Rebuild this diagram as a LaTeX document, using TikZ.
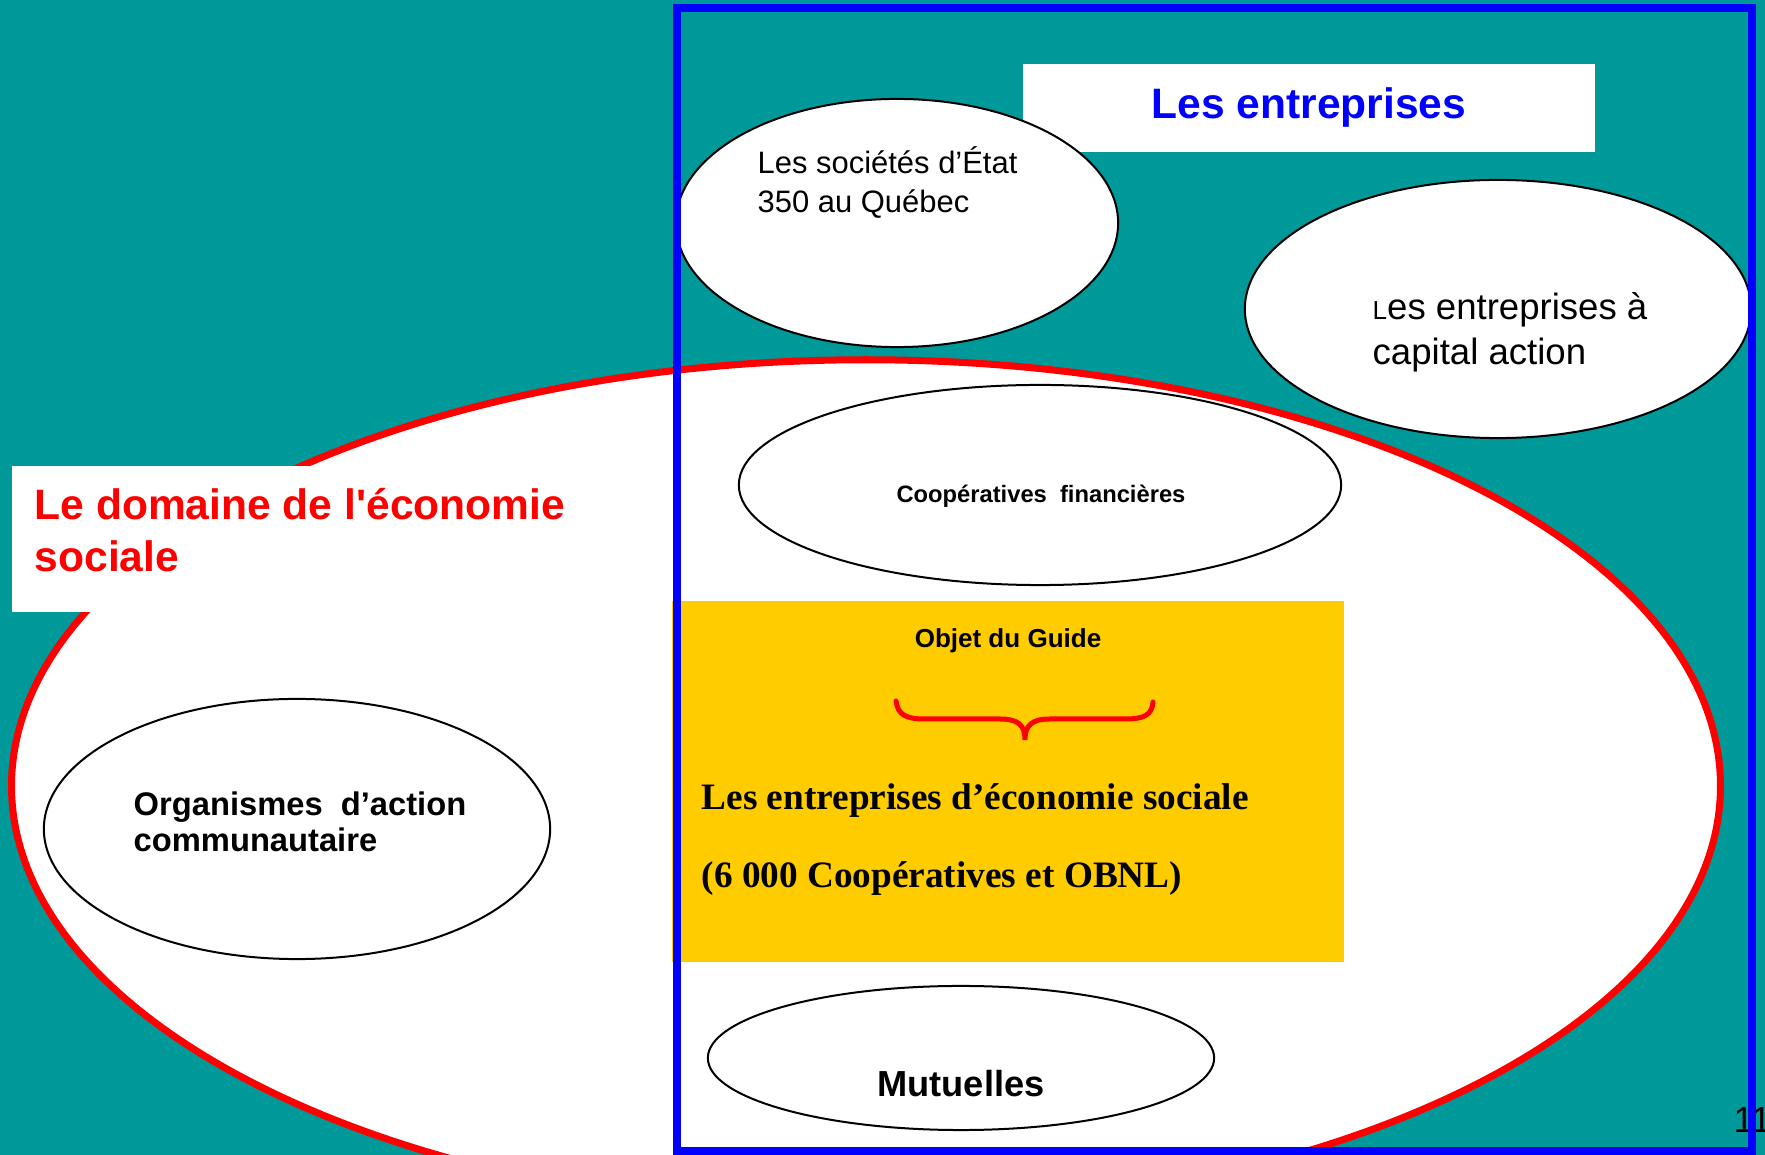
\documentclass[tikz,border=0pt]{standalone}
\usepackage{fontspec}
\setmainfont{Liberation Sans}
\newfontfamily\timesfont{Liberation Serif}
\usetikzlibrary{shapes.geometric}
\definecolor{fond}{HTML}{009999}
\definecolor{guide}{HTML}{FFCC00}
\tikzset{
  bulle/.style={ellipse, draw=black, line width=0.02cm, fill=white, inner sep=0pt},
  etiq/.style={inner sep=0pt, align=left, anchor=base west},
}
\begin{document}
\begin{tikzpicture}[x=0.01cm, y=-0.01cm]
\useasboundingbox (0,0) rectangle (1765,1155);
\clip (0,0) rectangle (1765,1155);
\fill[fond] (0,0) rectangle (1765,1155);

\node [fill=white, minimum width=5.72cm, minimum height=0.88cm, inner sep=0pt,
  text=blue, font=\bfseries\fontsize{12.1}{14}\selectfont] (entreprises) at (1309,108) {Les entreprises};

\node [ellipse, draw=red, line width=0.07cm, fill=white, inner sep=0pt,
  minimum width=17.08cm, minimum height=8.52cm] (domaine) at (866,786) {};
\fill[white] (12,466) rectangle (620,612);
\node [etiq, text=red, font=\bfseries\fontsize{12.1}{14.9}\selectfont] (titre) at (34,572)
  {Le domaine de l\textquotesingle économie\\sociale};

\node [bulle, minimum width=4.42cm, minimum height=2.48cm] (etat) at (897,223) {};
\node [bulle, minimum width=5.06cm, minimum height=2.58cm] (capital) at (1498,309) {};
\node [bulle, minimum width=6.02cm, minimum height=2.00cm] (coopfin) at (1040,485) {};
\node [bulle, minimum width=5.06cm, minimum height=2.60cm] (organismes) at (297,829) {};
\node [bulle, minimum width=5.06cm, minimum height=1.44cm] (mutuelles) at (961,1058) {};

\fill[guide] (672,601) rectangle (1344,962);
\draw[red, line width=0.05cm, line cap=round]
  (896,701) .. controls (898,715) and (906,719) .. (925,719) -- (1000,719)
  .. controls (1018,719) and (1025,725) .. (1025,740)
  .. controls (1025,725) and (1032,719) .. (1050,719) -- (1125,719)
  .. controls (1144,719) and (1152,715) .. (1153,702);

\node [etiq, font=\fontsize{8.8}{11.1}\selectfont] (etat-t) at (757,213)
  {Les sociétés d’État\\350 au Québec};
\node [etiq, font=\fontsize{10.4}{12.9}\selectfont] (capital-t) at (1372,365)
  {{\fontsize{7.4}{8}\selectfont L}es entreprises à\\capital action};
\node [inner sep=0pt, anchor=base, font=\bfseries\fontsize{6.75}{8}\selectfont] (coopfin-t) at (1041,503)
  {Coopératives\ \ financières};
\node [inner sep=0pt, anchor=base, font=\bfseries\fontsize{7.4}{9}\selectfont] (objet) at (1008,648)
  {Objet du Guide};
\node [etiq, font=\timesfont\bfseries\fontsize{10.6}{22.2}\selectfont] (ees) at (701,888)
  {Les entreprises d’économie sociale\\(6 000 Coopératives et OBNL)};
\node [etiq, font=\bfseries\fontsize{9.3}{10.5}\selectfont] (organismes-t) at (133,852)
  {Organismes\ \ d’action\\communautaire};
\node [inner sep=0pt, anchor=base, font=\bfseries\fontsize{10.3}{12}\selectfont] (mutuelles-t) at (961,1097)
  {Mutuelles};
\node [etiq, font=\fontsize{10.3}{12}\selectfont] (page) at (1733,1133) {11};

\draw[blue, line width=0.08cm] (677,8) rectangle (1752,1151);
\end{tikzpicture}
\end{document}
